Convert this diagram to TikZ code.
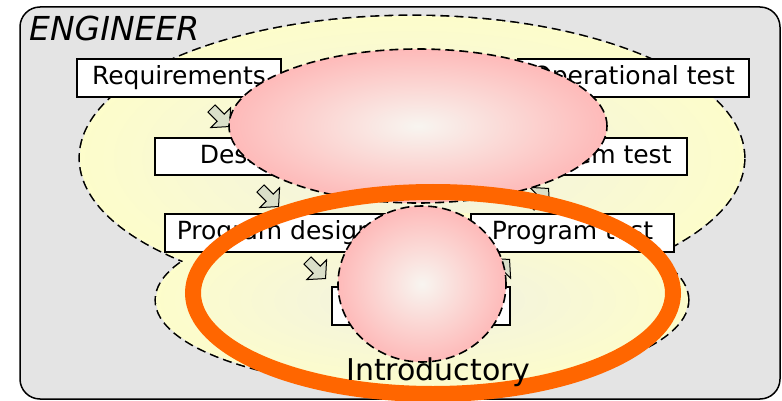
\documentclass[tikz,border=0pt]{standalone}
\usepackage{fontspec}
\setmainfont{DejaVu Sans}
\usetikzlibrary{calc}
\definecolor{bggray}{HTML}{E4E4E4}
\definecolor{yin}{HTML}{F1F1E3}
\definecolor{yout}{HTML}{FFFFC6}
\definecolor{pin}{HTML}{F8F5F0}
\definecolor{pout}{HTML}{FFAEAE}
\definecolor{ringor}{HTML}{FF6600}
\definecolor{arrfill}{HTML}{DADFC9}
\pgfdeclareradialshading{yellowglow}{\pgfpoint{0bp}{0bp}}{color(0bp)=(yin); color(30bp)=(yout); color(50bp)=(yout)}
\pgfdeclareradialshading{pinkglow}{\pgfpoint{0bp}{0bp}}{color(0bp)=(pin); color(30bp)=(pout); color(50bp)=(pout)}
\tikzset{
  stepbox/.style={draw=black, line width=1.2pt, fill=white, inner sep=0pt, minimum height=38pt, font=\fontsize{25}{30}\selectfont},
  dashborder/.style={dash pattern=on 9pt off 5pt, line width=1.6pt},
  blockarrow/.pic={\draw[line width=1pt, fill=arrfill, line join=miter] (-12,-5) -- (1,-5) -- (1,-14) -- (13.5,0) -- (1,14) -- (1,5) -- (-12,5) -- cycle;}
}
\begin{document}
\begin{tikzpicture}[x=1pt,y=-1pt]
\useasboundingbox (0,0) rectangle (782,401);
% frame
\draw[fill=bggray, line width=1.5pt, rounded corners=20pt] (20,7) rectangle (780,399);
\node[anchor=base west, font=\fontsize{33}{39}\selectfont\itshape, inner sep=0pt] (eng) at (29,41) {ENGINEER};
% yellow regions (union outline)
\draw[dashborder, line width=3.2pt] (412,158) ellipse [x radius=332pt, y radius=142pt];
\draw[dashborder, line width=3.2pt] (422,300) ellipse [x radius=266pt, y radius=88pt];
\path[shading=yellowglow] (412,158) ellipse [x radius=332pt, y radius=142pt];
\path[shading=yellowglow] (422,300) ellipse [x radius=266pt, y radius=88pt];
% arrows
\pic[rotate=-45] at (220,117) {blockarrow};
\pic[rotate=-45] at (269,197) {blockarrow};
\pic[rotate=-45] at (316,269) {blockarrow};
\pic[rotate=45] at (500,269) {blockarrow};
\pic[rotate=45] at (539,198) {blockarrow};
% boxes
\node[stepbox, minimum width=204pt] (req) at (179,78) {Requirements};
\node[stepbox, minimum width=231pt] (op) at (633.5,78) {Operational test};
\node[stepbox, minimum width=176pt, minimum height=37pt] (des) at (243,156.5) {Design};
\node[stepbox, minimum width=180pt, minimum height=37pt] (sys) at (597,156.5) {System test};
\node[stepbox, minimum width=220pt] (pd) at (275,233) {Program design};
\node[stepbox, minimum width=203pt] (pt) at (572.5,233) {Program test};
\node[stepbox, minimum width=178pt] (code) at (421,306) {};
% pink shapes
\path[draw, dashborder, shading=pinkglow] (418,126) ellipse [x radius=189pt, y radius=77pt];
\path[draw, dashborder, shading=pinkglow] (422,284) ellipse [x radius=84pt, y radius=78pt];
% orange ring
\draw[ringor, line width=16pt] (433,293) ellipse [x radius=240pt, y radius=101pt];
\node[anchor=base west, font=\fontsize{30}{36}\selectfont, inner sep=0pt] (intro) at (346,380) {Introductory};
\end{tikzpicture}
\end{document}
